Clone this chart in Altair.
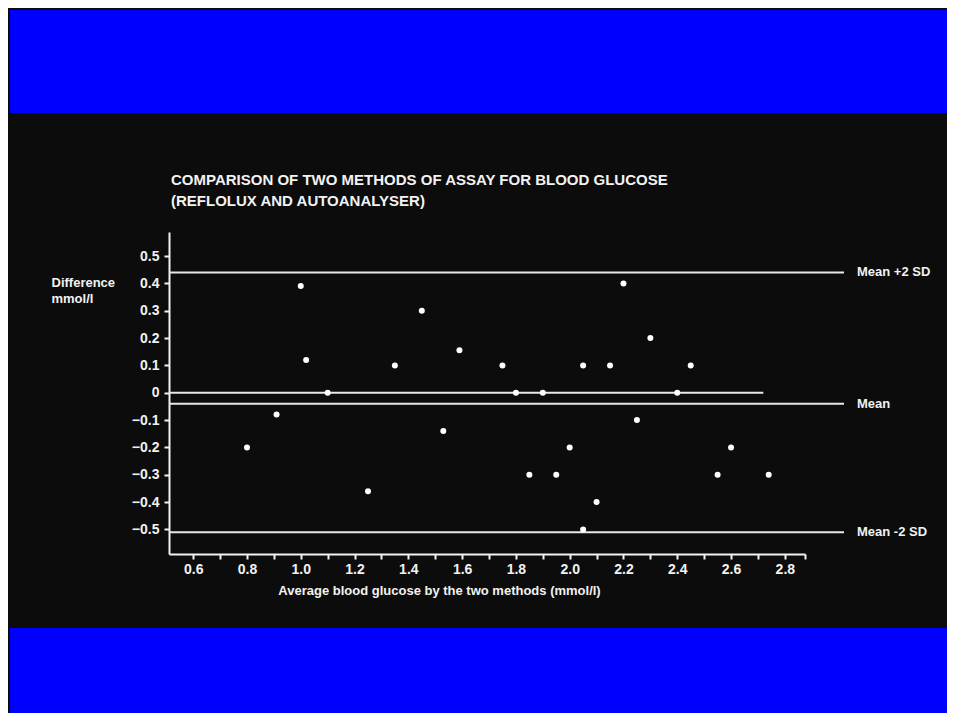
import altair as alt
import pandas as pd

# ---- data ----
avg_glucose = [0.80, 0.91, 1.00, 1.02, 1.10, 1.25, 1.35, 1.45, 1.53, 1.59,
               1.75, 1.80, 1.85, 1.90, 1.95, 2.00, 2.05, 2.05, 2.10, 2.15,
               2.20, 2.25, 2.30, 2.40, 2.45, 2.55, 2.60, 2.74]
difference = [-0.20, -0.08, 0.39, 0.12, 0.00, -0.36, 0.10, 0.30, -0.14, 0.155,
              0.10, 0.00, -0.30, 0.00, -0.30, -0.20, 0.10, -0.50, -0.40, 0.10,
              0.40, -0.10, 0.20, 0.00, 0.10, -0.30, -0.20, -0.30]

line_values = [0.44, -0.04, -0.51, 0.00]
line_labels = ["Mean +2 SD", "Mean", "Mean -2 SD", ""]
line_start = [0.51, 0.51, 0.51, 0.51]
line_end = [3.02, 3.02, 3.02, 2.72]

x_ticks = [0.6, 0.7, 0.8, 0.9, 1.0, 1.1, 1.2, 1.3, 1.4, 1.5, 1.6, 1.7, 1.8,
           1.9, 2.0, 2.1, 2.2, 2.3, 2.4, 2.5, 2.6, 2.7, 2.8, 2.875]
y_ticks = [-0.5, -0.4, -0.3, -0.2, -0.1, 0.0, 0.1, 0.2, 0.3, 0.4, 0.5]
x_domain = [0.51, 2.875]
y_domain = [-0.59, 0.588]

title_lines = ["COMPARISON OF TWO METHODS OF ASSAY FOR BLOOD GLUCOSE",
               "(REFLOLUX AND AUTOANALYSER)"]
x_title = "Average blood glucose by the two methods (mmol/l)"
y_title = ["Difference", "mmol/l"]

FONT = "Liberation Sans"
WHITE = "#f2f2f2"
BLUE = "#0000ff"

points = pd.DataFrame({"avg": avg_glucose, "diff": difference})
lines = pd.DataFrame({"y": line_values, "label": line_labels,
                      "x0": line_start, "x1": line_end})

xscale = alt.Scale(domain=x_domain, nice=False, zero=False)
yscale = alt.Scale(domain=y_domain, nice=False, zero=False)

x_axis = alt.Axis(
    values=x_ticks, tickCount=60,
    labelExpr="(abs(round(datum.value*10)) % 2 == 0 && datum.value < 2.85) ? format(datum.value, '.1f') : ''",
    title=x_title, titleX=270, titleY=36, titleAlign="center",
    titleBaseline="middle", titleFontSize=13, titleFontWeight="bold",
    titleColor=WHITE, titleFont=FONT,
    labelFontSize=14, labelFontWeight="bold", labelColor=WHITE, labelFont=FONT,
    labelPadding=3, tickSize=5, tickWidth=2, tickColor=WHITE,
    domainColor=WHITE, domainWidth=2, grid=False, labelFlush=False,
    labelOverlap=False,
)
y_axis = alt.Axis(
    values=y_ticks, tickCount=60,
    labelExpr="datum.value == 0 ? '0' : format(datum.value, '.1f')",
    title=y_title, titleAngle=0, titleX=-118, titleY=50, titleAlign="left",
    titleBaseline="middle", titleLineHeight=16.6, titleFontSize=13,
    titleFontWeight="bold", titleColor=WHITE, titleFont=FONT,
    labelFontSize=14, labelFontWeight="bold", labelColor=WHITE, labelFont=FONT,
    labelPadding=5, tickSize=5, tickWidth=2, tickColor=WHITE,
    domainColor=WHITE, domainWidth=2, grid=False, labelFlush=False,
    labelOverlap=False,
)

# decorative blue bands of the slide (top and bottom)
band_top = alt.Chart(pd.DataFrame({"band": ["top"]})).mark_rect(
    color=BLUE
).encode(
    x=alt.value(-159), x2=alt.value(820),
    y=alt.value(-222), y2=alt.value(-119),
)
band_bottom = alt.Chart(pd.DataFrame({"band": ["bottom"]})).mark_rect(
    color=BLUE
).encode(
    x=alt.value(-159), x2=alt.value(820),
    y=alt.value(396), y2=alt.value(520),
)

rules = alt.Chart(lines).mark_rule(color="#e8e8e8", strokeWidth=2).encode(
    x=alt.X("x0:Q", scale=xscale, axis=x_axis),
    x2="x1:Q",
    y=alt.Y("y:Q", scale=yscale, axis=y_axis),
)

labels = alt.Chart(lines).transform_filter("datum.label != ''").mark_text(
    align="left", baseline="middle", dx=13, fontSize=13, fontWeight="bold",
    font=FONT, color=WHITE,
).encode(
    x=alt.X("x1:Q", scale=xscale),
    y=alt.Y("y:Q", scale=yscale),
    text="label:N",
)

dots = alt.Chart(points).mark_point(
    filled=True, color="#ffffff", size=36, opacity=1, shape="circle"
).encode(
    x=alt.X("avg:Q", scale=xscale),
    y=alt.Y("diff:Q", scale=yscale),
)

chart = alt.layer(band_top, band_bottom, rules, labels, dots).properties(
    width=636,
    height=322,
    autosize=alt.AutoSizeParams(type="none"),
    padding={"left": 161, "top": 224, "right": 142, "bottom": 159},
    title=alt.TitleParams(
        text=title_lines, anchor="start", frame="group", orient="top",
        fontSize=15, fontWeight="bold", font=FONT, color=WHITE,
        lineHeight=21, offset=-199, dx=2,
    ),
).configure(
    background="#0c0c0c",
).configure_view(stroke=None)

chart.save("out.html", embed_options={"renderer": "svg", "actions": False})
